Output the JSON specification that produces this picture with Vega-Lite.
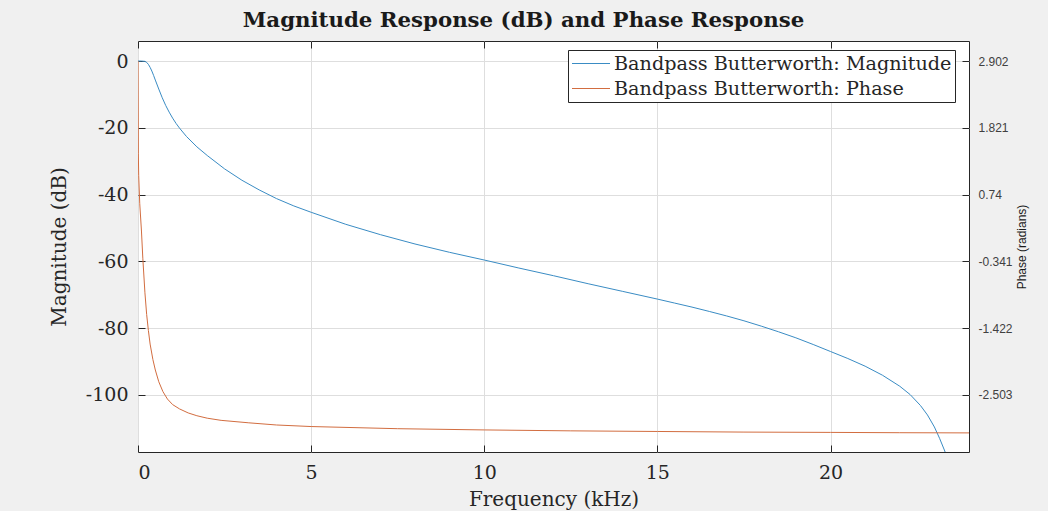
{
  "$schema": "https://vega.github.io/schema/vega-lite/v6.json",
  "width": 831,
  "height": 411,
  "autosize": {"type": "none"},
  "padding": {"left": 138, "top": 41, "right": 79, "bottom": 59},
  "background": "#f0f0f0",
  "title": {
    "text": "Magnitude Response (dB) and Phase Response",
    "font": "DejaVu Serif",
    "fontSize": 21.3,
    "fontWeight": "bold",
    "color": "#1a1a1a",
    "anchor": "middle",
    "offset": 9,
    "dx": -30
  },
  "config": {
    "view": {"stroke": "#262626", "strokeWidth": 1, "fill": "white"},
    "axis": {
      "labelFont": "DejaVu Serif",
      "labelFontSize": 19,
      "labelColor": "#262626",
      "titleFont": "DejaVu Serif",
      "titleFontSize": 20,
      "titleFontWeight": "normal",
      "titleColor": "#262626",
      "domain": false,
      "tickColor": "#262626",
      "tickSize": -7,
      "gridColor": "#dedede",
      "gridWidth": 1
    },
    "legend": {
      "labelFont": "DejaVu Serif",
      "labelFontSize": 19.2,
      "labelColor": "#262626",
      "labelLimit": 0
    }
  },
  "datasets": {
    "mag": [
      {"f": 0, "v": 0, "s": "Bandpass Butterworth: Magnitude"},
      {"f": 0.1, "v": 0, "s": "Bandpass Butterworth: Magnitude"},
      {"f": 0.2, "v": -0.1, "s": "Bandpass Butterworth: Magnitude"},
      {"f": 0.25, "v": -0.4, "s": "Bandpass Butterworth: Magnitude"},
      {"f": 0.3, "v": -1.0, "s": "Bandpass Butterworth: Magnitude"},
      {"f": 0.35, "v": -1.9, "s": "Bandpass Butterworth: Magnitude"},
      {"f": 0.4, "v": -3.0, "s": "Bandpass Butterworth: Magnitude"},
      {"f": 0.45, "v": -4.3, "s": "Bandpass Butterworth: Magnitude"},
      {"f": 0.5, "v": -5.7, "s": "Bandpass Butterworth: Magnitude"},
      {"f": 0.6, "v": -8.4, "s": "Bandpass Butterworth: Magnitude"},
      {"f": 0.7, "v": -11.0, "s": "Bandpass Butterworth: Magnitude"},
      {"f": 0.8, "v": -13.3, "s": "Bandpass Butterworth: Magnitude"},
      {"f": 0.9, "v": -15.3, "s": "Bandpass Butterworth: Magnitude"},
      {"f": 1.0, "v": -17.1, "s": "Bandpass Butterworth: Magnitude"},
      {"f": 1.1, "v": -18.7, "s": "Bandpass Butterworth: Magnitude"},
      {"f": 1.2, "v": -20.1, "s": "Bandpass Butterworth: Magnitude"},
      {"f": 1.4, "v": -22.6, "s": "Bandpass Butterworth: Magnitude"},
      {"f": 1.7, "v": -25.7, "s": "Bandpass Butterworth: Magnitude"},
      {"f": 2.0, "v": -28.3, "s": "Bandpass Butterworth: Magnitude"},
      {"f": 2.5, "v": -32.3, "s": "Bandpass Butterworth: Magnitude"},
      {"f": 3.0, "v": -35.7, "s": "Bandpass Butterworth: Magnitude"},
      {"f": 3.5, "v": -38.6, "s": "Bandpass Butterworth: Magnitude"},
      {"f": 4.0, "v": -41.2, "s": "Bandpass Butterworth: Magnitude"},
      {"f": 4.5, "v": -43.4, "s": "Bandpass Butterworth: Magnitude"},
      {"f": 5.0, "v": -45.3, "s": "Bandpass Butterworth: Magnitude"},
      {"f": 6.0, "v": -48.9, "s": "Bandpass Butterworth: Magnitude"},
      {"f": 7.0, "v": -52.0, "s": "Bandpass Butterworth: Magnitude"},
      {"f": 8.0, "v": -54.8, "s": "Bandpass Butterworth: Magnitude"},
      {"f": 9.0, "v": -57.3, "s": "Bandpass Butterworth: Magnitude"},
      {"f": 10.0, "v": -59.6, "s": "Bandpass Butterworth: Magnitude"},
      {"f": 11.0, "v": -62.0, "s": "Bandpass Butterworth: Magnitude"},
      {"f": 12.0, "v": -64.3, "s": "Bandpass Butterworth: Magnitude"},
      {"f": 13.0, "v": -66.7, "s": "Bandpass Butterworth: Magnitude"},
      {"f": 14.0, "v": -69.0, "s": "Bandpass Butterworth: Magnitude"},
      {"f": 15.0, "v": -71.3, "s": "Bandpass Butterworth: Magnitude"},
      {"f": 15.5, "v": -72.5, "s": "Bandpass Butterworth: Magnitude"},
      {"f": 16.0, "v": -73.7, "s": "Bandpass Butterworth: Magnitude"},
      {"f": 16.5, "v": -75.0, "s": "Bandpass Butterworth: Magnitude"},
      {"f": 17.0, "v": -76.35, "s": "Bandpass Butterworth: Magnitude"},
      {"f": 17.5, "v": -77.8, "s": "Bandpass Butterworth: Magnitude"},
      {"f": 18.0, "v": -79.4, "s": "Bandpass Butterworth: Magnitude"},
      {"f": 18.5, "v": -81.1, "s": "Bandpass Butterworth: Magnitude"},
      {"f": 19.0, "v": -82.9, "s": "Bandpass Butterworth: Magnitude"},
      {"f": 19.5, "v": -84.9, "s": "Bandpass Butterworth: Magnitude"},
      {"f": 20.0, "v": -87.0, "s": "Bandpass Butterworth: Magnitude"},
      {"f": 20.5, "v": -89.1, "s": "Bandpass Butterworth: Magnitude"},
      {"f": 21.0, "v": -91.4, "s": "Bandpass Butterworth: Magnitude"},
      {"f": 21.5, "v": -94.1, "s": "Bandpass Butterworth: Magnitude"},
      {"f": 22.0, "v": -97.4, "s": "Bandpass Butterworth: Magnitude"},
      {"f": 22.3, "v": -99.9, "s": "Bandpass Butterworth: Magnitude"},
      {"f": 22.6, "v": -103.2, "s": "Bandpass Butterworth: Magnitude"},
      {"f": 22.8, "v": -106.0, "s": "Bandpass Butterworth: Magnitude"},
      {"f": 23.0, "v": -109.6, "s": "Bandpass Butterworth: Magnitude"},
      {"f": 23.15, "v": -113.0, "s": "Bandpass Butterworth: Magnitude"},
      {"f": 23.3, "v": -116.8, "s": "Bandpass Butterworth: Magnitude"},
      {"f": 23.4, "v": -119.8, "s": "Bandpass Butterworth: Magnitude"}
    ],
    "phase": [
      {"f": 0, "v": 2.9, "s": "Bandpass Butterworth: Phase"},
      {"f": 0.01, "v": 1.4, "s": "Bandpass Butterworth: Phase"},
      {"f": 0.02, "v": 1.05, "s": "Bandpass Butterworth: Phase"},
      {"f": 0.05, "v": 0.6, "s": "Bandpass Butterworth: Phase"},
      {"f": 0.1, "v": 0.15, "s": "Bandpass Butterworth: Phase"},
      {"f": 0.14, "v": -0.3, "s": "Bandpass Butterworth: Phase"},
      {"f": 0.2, "v": -0.85, "s": "Bandpass Butterworth: Phase"},
      {"f": 0.25, "v": -1.2, "s": "Bandpass Butterworth: Phase"},
      {"f": 0.3, "v": -1.46, "s": "Bandpass Butterworth: Phase"},
      {"f": 0.35, "v": -1.68, "s": "Bandpass Butterworth: Phase"},
      {"f": 0.43, "v": -1.93, "s": "Bandpass Butterworth: Phase"},
      {"f": 0.5, "v": -2.1, "s": "Bandpass Butterworth: Phase"},
      {"f": 0.6, "v": -2.29, "s": "Bandpass Butterworth: Phase"},
      {"f": 0.72, "v": -2.45, "s": "Bandpass Butterworth: Phase"},
      {"f": 0.85, "v": -2.57, "s": "Bandpass Butterworth: Phase"},
      {"f": 1.0, "v": -2.66, "s": "Bandpass Butterworth: Phase"},
      {"f": 1.2, "v": -2.73, "s": "Bandpass Butterworth: Phase"},
      {"f": 1.45, "v": -2.795, "s": "Bandpass Butterworth: Phase"},
      {"f": 1.7, "v": -2.84, "s": "Bandpass Butterworth: Phase"},
      {"f": 2.0, "v": -2.88, "s": "Bandpass Butterworth: Phase"},
      {"f": 2.4, "v": -2.915, "s": "Bandpass Butterworth: Phase"},
      {"f": 3.2, "v": -2.955, "s": "Bandpass Butterworth: Phase"},
      {"f": 4.0, "v": -2.99, "s": "Bandpass Butterworth: Phase"},
      {"f": 5.0, "v": -3.015, "s": "Bandpass Butterworth: Phase"},
      {"f": 7.5, "v": -3.05, "s": "Bandpass Butterworth: Phase"},
      {"f": 10.0, "v": -3.07, "s": "Bandpass Butterworth: Phase"},
      {"f": 12.5, "v": -3.085, "s": "Bandpass Butterworth: Phase"},
      {"f": 15.0, "v": -3.095, "s": "Bandpass Butterworth: Phase"},
      {"f": 17.5, "v": -3.105, "s": "Bandpass Butterworth: Phase"},
      {"f": 20.0, "v": -3.11, "s": "Bandpass Butterworth: Phase"},
      {"f": 22.0, "v": -3.115, "s": "Bandpass Butterworth: Phase"},
      {"f": 24.0, "v": -3.118, "s": "Bandpass Butterworth: Phase"}
    ]
  },
  "layer": [
    {
      "data": {"name": "mag"},
      "mark": {"type": "line", "clip": true, "strokeWidth": 1},
      "encoding": {
        "x": {
          "field": "f", "type": "quantitative",
          "scale": {"domain": [0, 24], "nice": false, "zero": false},
          "axis": {"orient": "bottom", "values": [0, 5, 10, 15, 20], "title": "Frequency (kHz)", "labelPadding": 18, "titlePadding": 7, "grid": true}
        },
        "y": {
          "field": "v", "type": "quantitative",
          "scale": {"domain": [-117.1, 6], "nice": false, "zero": false},
          "axis": {"orient": "left", "values": [-100, -80, -60, -40, -20, 0], "labelExpr": "'' + datum.value", "title": "Magnitude (dB)", "labelPadding": 17, "titlePadding": 16, "grid": true}
        },
        "color": {
          "field": "s", "type": "nominal",
          "scale": {"domain": ["Bandpass Butterworth: Magnitude", "Bandpass Butterworth: Phase"], "range": ["#3a8cc4", "#d26d40"]},
          "legend": {
            "title": null,
            "orient": "none",
            "legendX": 430,
            "legendY": 9,
            "symbolType": "M-1,0H3",
            "symbolSize": 361,
            "symbolStrokeWidth": 1.2,
            "labelOffset": 22,
            "padding": 3,
            "rowPadding": 4,
            "fillColor": "white",
            "strokeColor": "#262626"
          }
        }
      }
    },
    {
      "data": {"name": "phase"},
      "mark": {"type": "line", "clip": true, "strokeWidth": 1},
      "encoding": {
        "x": {"field": "f", "type": "quantitative", "axis": {"orient": "top", "values": [0, 5, 10, 15, 20], "labels": false, "title": null, "grid": false}},
        "y": {
          "field": "v", "type": "quantitative",
          "scale": {"domain": [-3.4273, 3.2263], "nice": false, "zero": false},
          "axis": {
            "orient": "right",
            "values": [-2.503, -1.422, -0.341, 0.74, 1.821, 2.902],
            "labelExpr": "'' + datum.value",
            "grid": false,
            "title": "Phase (radians)",
            "titleAngle": 270,
            "titleFont": "Liberation Sans",
            "titleFontSize": 12,
            "titleColor": "#1a1a1a",
            "labelFont": "Liberation Sans",
            "labelFontSize": 12,
            "labelColor": "#404040",
            "labelPadding": 16,
            "titlePadding": 16
          }
        },
        "color": {"field": "s", "type": "nominal"}
      }
    }
  ],
  "resolve": {"scale": {"y": "independent"}, "axis": {"x": "independent"}}
}
